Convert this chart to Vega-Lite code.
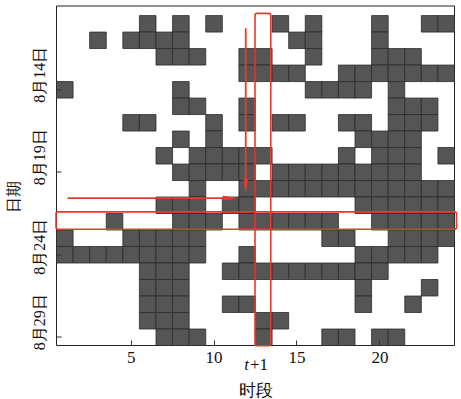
{
  "$schema": "https://vega.github.io/schema/vega-lite/v6.json",
  "width": 398,
  "height": 339.5,
  "autosize": "none",
  "padding": {"left": 56, "top": 5.5, "right": 7, "bottom": 54},
  "background": "white",
  "config": {
    "view": {"stroke": "#222222", "strokeWidth": 1},
    "axis": {"labelFont": "Liberation Serif", "titleFont": "Liberation Serif", "labelColor": "#111", "titleColor": "#111", "titleFontWeight": "normal", "domain": false, "grid": false, "tickColor": "#333", "tickSize": -5}
  },
  "datasets": {
    "cells": [
      {"c":6,"d":10},{"c":8,"d":10},{"c":10,"d":10},{"c":14,"d":10},{"c":16,"d":10},{"c":20,"d":10},{"c":23,"d":10},{"c":24,"d":10},
      {"c":3,"d":11},{"c":5,"d":11},{"c":6,"d":11},{"c":7,"d":11},{"c":8,"d":11},{"c":15,"d":11},{"c":16,"d":11},{"c":20,"d":11},
      {"c":7,"d":12},{"c":8,"d":12},{"c":9,"d":12},{"c":12,"d":12},{"c":13,"d":12},{"c":16,"d":12},{"c":20,"d":12},{"c":21,"d":12},{"c":22,"d":12},
      {"c":12,"d":13},{"c":13,"d":13},{"c":14,"d":13},{"c":15,"d":13},{"c":18,"d":13},{"c":19,"d":13},{"c":20,"d":13},{"c":21,"d":13},{"c":22,"d":13},{"c":23,"d":13},{"c":24,"d":13},
      {"c":1,"d":14},{"c":8,"d":14},{"c":16,"d":14},{"c":17,"d":14},{"c":18,"d":14},{"c":19,"d":14},{"c":21,"d":14},
      {"c":8,"d":15},{"c":9,"d":15},{"c":12,"d":15},{"c":21,"d":15},{"c":22,"d":15},{"c":23,"d":15},
      {"c":5,"d":16},{"c":6,"d":16},{"c":10,"d":16},{"c":12,"d":16},{"c":14,"d":16},{"c":15,"d":16},{"c":18,"d":16},{"c":19,"d":16},{"c":21,"d":16},{"c":22,"d":16},{"c":23,"d":16},
      {"c":8,"d":17},{"c":10,"d":17},{"c":19,"d":17},{"c":20,"d":17},{"c":21,"d":17},{"c":22,"d":17},
      {"c":7,"d":18},{"c":9,"d":18},{"c":10,"d":18},{"c":11,"d":18},{"c":12,"d":18},{"c":13,"d":18},{"c":18,"d":18},{"c":20,"d":18},{"c":21,"d":18},{"c":22,"d":18},{"c":24,"d":18},
      {"c":8,"d":19},{"c":9,"d":19},{"c":10,"d":19},{"c":11,"d":19},{"c":12,"d":19},{"c":14,"d":19},{"c":15,"d":19},{"c":16,"d":19},{"c":17,"d":19},{"c":18,"d":19},{"c":19,"d":19},{"c":20,"d":19},{"c":21,"d":19},{"c":22,"d":19},
      {"c":9,"d":20},{"c":12,"d":20},{"c":13,"d":20},{"c":14,"d":20},{"c":15,"d":20},{"c":16,"d":20},{"c":17,"d":20},{"c":18,"d":20},{"c":19,"d":20},{"c":20,"d":20},{"c":21,"d":20},{"c":22,"d":20},{"c":23,"d":20},{"c":24,"d":20},
      {"c":7,"d":21},{"c":8,"d":21},{"c":9,"d":21},{"c":11,"d":21},{"c":12,"d":21},{"c":19,"d":21},{"c":20,"d":21},{"c":21,"d":21},{"c":22,"d":21},{"c":23,"d":21},{"c":24,"d":21},
      {"c":4,"d":22},{"c":8,"d":22},{"c":9,"d":22},{"c":10,"d":22},{"c":12,"d":22},{"c":13,"d":22},{"c":14,"d":22},{"c":15,"d":22},{"c":16,"d":22},{"c":17,"d":22},{"c":20,"d":22},{"c":21,"d":22},{"c":22,"d":22},{"c":23,"d":22},{"c":24,"d":22},
      {"c":1,"d":23},{"c":5,"d":23},{"c":6,"d":23},{"c":7,"d":23},{"c":8,"d":23},{"c":9,"d":23},{"c":17,"d":23},{"c":18,"d":23},{"c":21,"d":23},{"c":22,"d":23},{"c":23,"d":23},{"c":24,"d":23},
      {"c":1,"d":24},{"c":2,"d":24},{"c":3,"d":24},{"c":4,"d":24},{"c":5,"d":24},{"c":6,"d":24},{"c":7,"d":24},{"c":8,"d":24},{"c":9,"d":24},{"c":12,"d":24},{"c":19,"d":24},{"c":20,"d":24},{"c":21,"d":24},{"c":22,"d":24},{"c":23,"d":24},
      {"c":6,"d":25},{"c":7,"d":25},{"c":8,"d":25},{"c":11,"d":25},{"c":12,"d":25},{"c":13,"d":25},{"c":14,"d":25},{"c":15,"d":25},{"c":16,"d":25},{"c":17,"d":25},{"c":18,"d":25},{"c":19,"d":25},{"c":20,"d":25},
      {"c":6,"d":26},{"c":7,"d":26},{"c":8,"d":26},{"c":19,"d":26},{"c":23,"d":26},
      {"c":6,"d":27},{"c":7,"d":27},{"c":8,"d":27},{"c":11,"d":27},{"c":12,"d":27},{"c":19,"d":27},{"c":22,"d":27},
      {"c":6,"d":28},{"c":7,"d":28},{"c":8,"d":28},{"c":13,"d":28},{"c":14,"d":28},
      {"c":7,"d":29},{"c":8,"d":29},{"c":9,"d":29},{"c":13,"d":29},{"c":17,"d":29},{"c":18,"d":29},{"c":20,"d":29},{"c":21,"d":29}
    ],
    "boxes": [
      {"c":12.5,"c2":13.45,"d":9.4,"d2":29.55},
      {"c":0.5,"c2":24.65,"d":21.43,"d2":22.48}
    ],
    "arrows": [
      {"c":1.2,"c2":11.0,"d":20.6,"d2":20.6},
      {"c":11.94,"c2":11.94,"d":10.3,"d2":19.85}
    ],
    "heads": [
      {"c":11.05,"d":20.6,"dir":"right"},
      {"c":11.94,"d":19.88,"dir":"down"}
    ],
    "notes": [{"c":12.5,"d":29.5}]
  },
  "layer": [
    {
      "data": {"name": "cells"},
      "mark": {"type": "rect", "fill": "#555555", "stroke": "#2b2b2b", "strokeWidth": 0.8, "binSpacing": 0},
      "encoding": {
        "x": {"field": "c", "type": "quantitative", "bin": {"step": 1, "anchor": 0.5, "extent": [0.5, 24.5], "nice": false}, "scale": {"domain": [0.5, 24.5], "nice": false, "zero": false},
              "axis": {"title": "时段", "values": [5, 10, 15, 20], "labelFontSize": 17, "labelPadding": 9, "titleFontSize": 17, "titlePadding": 17, "labelFlush": false}},
        "y": {"field": "d", "type": "quantitative", "bin": {"step": 1, "anchor": 0.5, "extent": [9.5, 29.5], "nice": false}, "scale": {"domain": [8.92, 29.5], "reverse": true, "nice": false, "zero": false},
              "axis": {"title": "日期", "values": [14, 19, 24, 29], "labelExpr": "'8月' + datum.value + '日'", "labelAngle": -90, "labelAlign": "center", "labelBaseline": "bottom", "labelFontSize": 16, "labelPadding": 14,
                       "labelOffset": {"condition": {"test": "datum.value === 24", "value": -8}, "value": -15},
                       "titleFontSize": 16, "titlePadding": 10, "titleY": 191, "labelFlush": false}}
      }
    },
    {
      "data": {"name": "boxes"},
      "mark": {"type": "rect", "fill": null, "stroke": "#e8392e", "strokeWidth": 1.6, "cornerRadius": 2},
      "encoding": {
        "x": {"field": "c", "type": "quantitative"},
        "x2": {"field": "c2"},
        "y": {"field": "d", "type": "quantitative"},
        "y2": {"field": "d2"}
      }
    },
    {
      "data": {"name": "arrows"},
      "mark": {"type": "rule", "color": "#e8392e", "strokeWidth": 1.8},
      "encoding": {
        "x": {"field": "c", "type": "quantitative"},
        "x2": {"field": "c2"},
        "y": {"field": "d", "type": "quantitative"},
        "y2": {"field": "d2"}
      }
    },
    {
      "data": {"name": "heads"},
      "mark": {"type": "point", "filled": true, "color": "#e8392e", "opacity": 1, "size": 256, "strokeWidth": 0},
      "encoding": {
        "x": {"field": "c", "type": "quantitative"},
        "y": {"field": "d", "type": "quantitative"},
        "shape": {"field": "dir", "type": "nominal", "scale": {"domain": ["right", "down"], "range": ["M-1,-0.3L1,0L-1,0.3Z", "M-0.3,-1L0,1L0.3,-1Z"]}, "legend": null}
      }
    },
    {
      "data": {"name": "notes"},
      "mark": {"type": "text", "text": "t", "font": "Liberation Serif", "fontStyle": "italic", "fontSize": 17, "align": "right", "baseline": "middle", "dx": -6, "dy": 20, "color": "#111"},
      "encoding": {
        "x": {"field": "c", "type": "quantitative"},
        "y": {"field": "d", "type": "quantitative"}
      }
    },
    {
      "data": {"name": "notes"},
      "mark": {"type": "text", "text": "+1", "font": "Liberation Serif", "fontSize": 17, "align": "left", "baseline": "middle", "dx": -5, "dy": 20, "color": "#111"},
      "encoding": {
        "x": {"field": "c", "type": "quantitative"},
        "y": {"field": "d", "type": "quantitative"}
      }
    }
  ]
}
